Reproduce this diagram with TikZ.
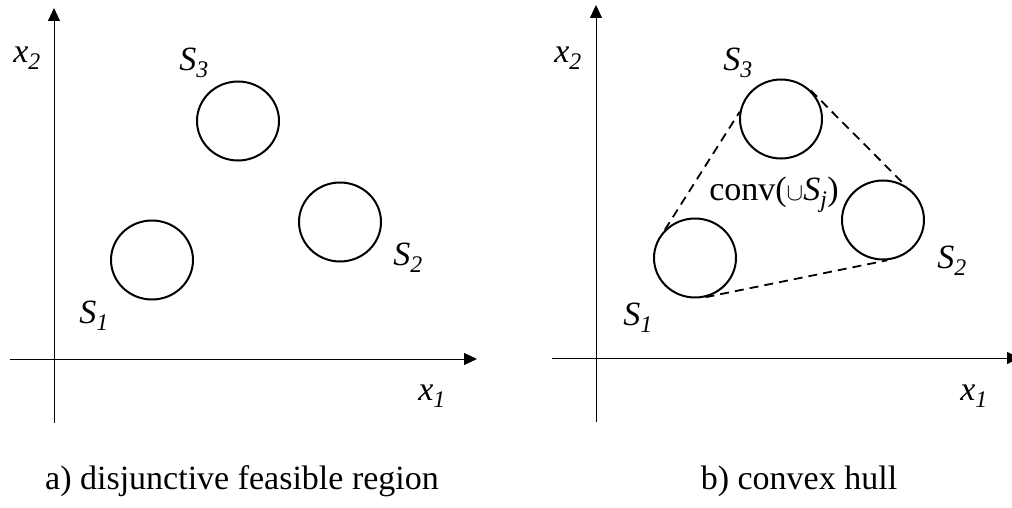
\documentclass[tikz,border=0pt]{standalone}
\usepackage{fontspec}
\setmainfont{Liberation Serif}
\usepackage{amsmath}
\usepackage{tikz}
\usetikzlibrary{arrows.meta,shapes,calc}

\tikzset{
  setcirc/.style={draw, line width=2pt, ellipse, minimum width=82pt, minimum height=79pt, inner sep=0pt},
  axis/.style={line width=0.9pt, -{Triangle[length=13pt,width=12pt]}},
  hull/.style={line width=1.8pt, dash pattern=on 9pt off 6pt},
  lab/.style={font=\fontsize{34}{40}\selectfont\itshape, inner sep=0pt},
  captext/.style={font=\fontsize{34}{40}\selectfont, inner sep=0pt}
}

\begin{document}
\begin{tikzpicture}[x=1pt,y=-1pt]
    \useasboundingbox (0,0) rectangle (1012,508);

    % a) disjunctive feasible region
    \draw[axis] (54,423) -- (54,8);
    \draw[axis] (10,359) -- (477,359);
    \node[setcirc] (a3) at (238,121) {};
    \node[setcirc] (a2) at (340,222) {};
    \node[setcirc] (a1) at (152,260) {};
    \node[lab] (ax2) at (27,58) {x\textsubscript{2}};
    \node[lab] (ax1) at (432,396) {x\textsubscript{1}};
    \node[lab] (as3) at (194,63) {S\textsubscript{3}};
    \node[lab] (as2) at (408,258) {S\textsubscript{2}};
    \node[lab] (as1) at (94,316) {S\textsubscript{1}};
    \node[captext] (acap) at (242,481) {a) disjunctive feasible region};

    % b) convex hull
    \draw[axis] (596,422) -- (596,5);
    \draw[axis] (552,358) -- (1020,358);
    \node[setcirc] (b3) at (781,119) {};
    \node[setcirc] (b2) at (883,220) {};
    \node[setcirc] (b1) at (695,258) {};
    \draw[hull] (b1.137) -- (b3.170);
    \draw[hull] (b3.44) -- (b2.56);
    \draw[hull] (b1.-75) -- (b2.-84);
    \node[captext] (conv) at (774,195) {conv($\cup$\textit{S\textsubscript{j}})};
    \node[lab] (bx2) at (568,58) {x\textsubscript{2}};
    \node[lab] (bx1) at (974,396) {x\textsubscript{1}};
    \node[lab] (bs3) at (738,63) {S\textsubscript{3}};
    \node[lab] (bs2) at (952,261) {S\textsubscript{2}};
    \node[lab] (bs1) at (638,318) {S\textsubscript{1}};
    \node[captext] (bcap) at (799,481) {b) convex hull};

\end{tikzpicture}
\end{document}
